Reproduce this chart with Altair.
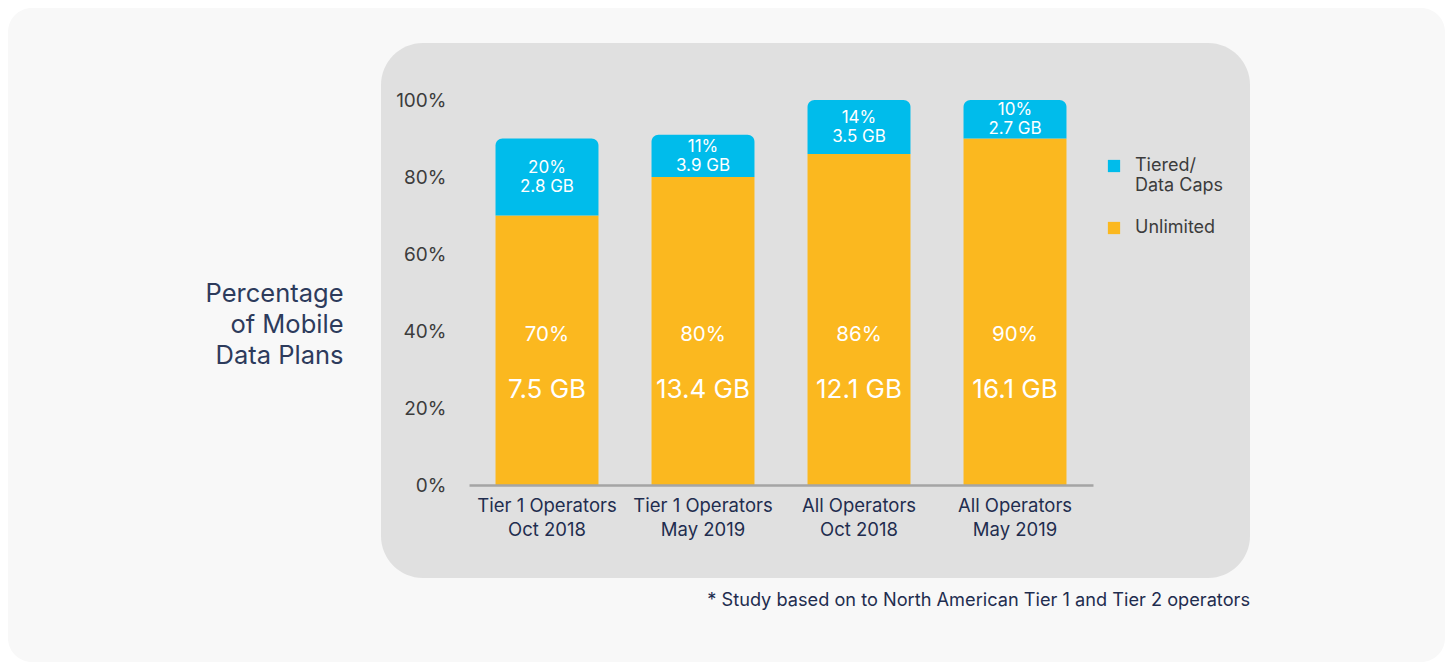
import altair as alt
import pandas as pd

group_line1 = ["Tier 1 Operators", "Tier 1 Operators", "All Operators", "All Operators"]
group_line2 = ["Oct 2018", "May 2019", "Oct 2018", "May 2019"]
unlimited_pct = [70, 80, 86, 90]
tiered_pct = [20, 11, 14, 10]
unlimited_gb = ["7.5 GB", "13.4 GB", "12.1 GB", "16.1 GB"]
tiered_gb = ["2.8 GB", "3.9 GB", "3.5 GB", "2.7 GB"]
series_names = ["Tiered/|Data Caps", "Unlimited"]
series_colors = ["#00bceb", "#fbb81f"]
y_ticks = [0, 20, 40, 60, 80, 100]

FONT = "Inter"

cats = [f"{a}|{b}" for a, b in zip(group_line1, group_line2)]
df = pd.DataFrame({
    "cat": cats,
    "unl": unlimited_pct,
    "tier": tiered_pct,
    "unl_gb": unlimited_gb,
    "tier_gb": tiered_gb,
})
df["total"] = df["unl"] + df["tier"]
df["mid"] = df["unl"] + df["tier"] / 2
df["unl_lbl"] = df["unl"].astype(str) + "%"
df["tier_lbl"] = df["tier"].astype(str) + "%"

one = alt.Data(values=[{}])

outer_bg = alt.Chart(one).mark_rect(color="#f8f8f8", cornerRadius=24).encode(
    x=alt.value(-461), x2=alt.value(976), y=alt.value(-92), y2=alt.value(562)
)
inner_bg = alt.Chart(one).mark_rect(color="#e0e0e0", cornerRadius=42).encode(
    x=alt.value(-88), x2=alt.value(781), y=alt.value(-57), y2=alt.value(478)
)

xenc = alt.X(
    "cat:N",
    sort=cats,
    scale=alt.Scale(paddingInner=0.34, paddingOuter=0.17),
    axis=alt.Axis(
        title=None,
        labelExpr="split(datum.label, '|')",
        labelAngle=0,
        labelFont=FONT,
        labelFontSize=18.5,
        labelColor="#1f2d4f",
        labelLineHeight=24,
        labelPadding=11,
        ticks=False,
        domainColor="#a5a5a5",
        domainWidth=2.5,
        labelLimit=300,
        zindex=1,
    ),
)

yscale = alt.Scale(domain=[0, 100], nice=False)

color_scale = alt.Scale(domain=series_names, range=series_colors)

unl_bar = alt.Chart(df).mark_bar().encode(
    x=xenc,
    y=alt.Y(
        "unl:Q",
        scale=yscale,
        axis=alt.Axis(
            title=["Percentage", "of Mobile", "Data Plans"],
            titleAngle=0,
            titleAlign="right",
            titleBaseline="middle",
            titleX=-126,
            titleY=193,
            titleFont=FONT,
            titleFontSize=25.5,
            titleFontWeight="normal",
            titleColor="#2d3b5c",
            titleLineHeight=31,
            values=y_ticks,
            labelExpr="datum.value + '%'",
            labelFont=FONT,
            labelFontSize=19,
            labelColor="#3c3c3c",
            labelPadding=23,
            ticks=False,
            domain=False,
            grid=False,
            zindex=1,
        ),
    ),
    color=alt.Color(
        "s:N",
        scale=color_scale,
        legend=alt.Legend(
            title=None,
            orient="none",
            legendX=636,
            legendY=57,
            symbolType="square",
            symbolSize=150,
            symbolStrokeWidth=0,
            labelFont=FONT,
            labelFontSize=18,
            labelColor="#3c3c3c",
            labelExpr="split(datum.label, '|')",
            labelOffset=12,
            rowPadding=24,
        ),
    ),
).transform_calculate(s="'Unlimited'")

tier_bar = alt.Chart(df).mark_bar(cornerRadiusTopLeft=7, cornerRadiusTopRight=7).encode(
    x=alt.X("cat:N", sort=cats),
    y=alt.Y("total:Q", scale=yscale),
    y2="unl:Q",
    color=alt.Color("s:N", scale=color_scale),
).transform_calculate(s="'Tiered/|Data Caps'")

txt_common = dict(font=FONT, color="white")

unl_pct_txt = alt.Chart(df).mark_text(fontSize=20.5, **txt_common).encode(
    x=alt.X("cat:N", sort=cats), y=alt.datum(39), text="unl_lbl:N"
)
unl_gb_txt = alt.Chart(df).mark_text(fontSize=26, **txt_common).encode(
    x=alt.X("cat:N", sort=cats), y=alt.datum(24.7), text="unl_gb:N"
)
tier_pct_txt = alt.Chart(df).mark_text(fontSize=17, dy=-9, **txt_common).encode(
    x=alt.X("cat:N", sort=cats), y=alt.Y("mid:Q", scale=yscale), text="tier_lbl:N"
)
tier_gb_txt = alt.Chart(df).mark_text(fontSize=17, dy=10, **txt_common).encode(
    x=alt.X("cat:N", sort=cats), y=alt.Y("mid:Q", scale=yscale), text="tier_gb:N"
)

footnote = alt.Chart(one).mark_text(
    text="* Study based on to North American Tier 1 and Tier 2 operators",
    font=FONT, fontSize=18.2, color="#1f2d4f", align="right", baseline="middle",
).encode(x=alt.value(781), y=alt.value(501))

chart = alt.layer(
    outer_bg, inner_bg, unl_bar, tier_bar,
    unl_pct_txt, unl_gb_txt, tier_pct_txt, tier_gb_txt, footnote,
).properties(
    width=624,
    height=385,
    padding={"left": 461, "top": 92, "right": 352, "bottom": 177},
    autosize=alt.AutoSizeParams(type="none"),
    background="white",
).configure_view(stroke=None)

chart.save("out.html", embed_options={"renderer": "svg", "actions": False})
